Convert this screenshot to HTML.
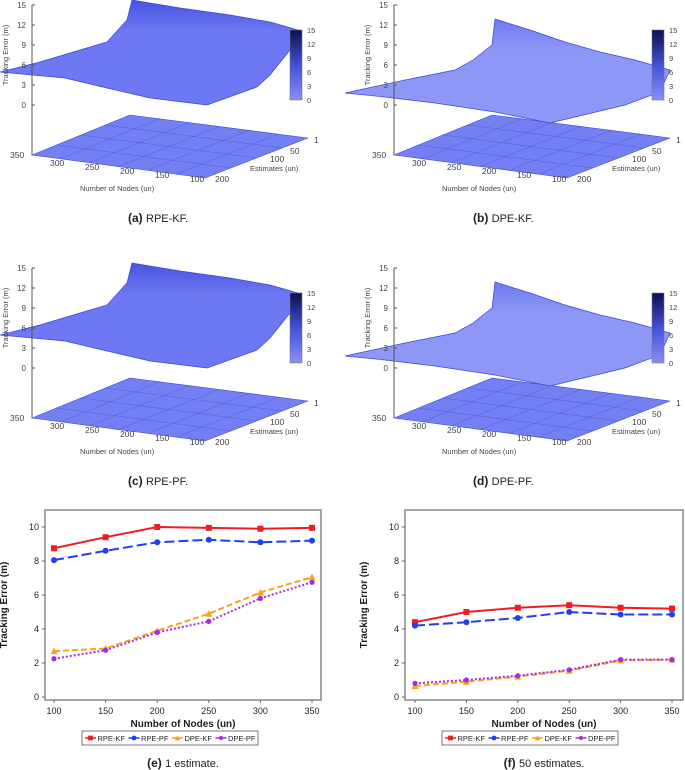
<!DOCTYPE html>
<html><head><meta charset="utf-8">
<style>
body{margin:0;background:#fff;font-family:"Liberation Sans",sans-serif;}
svg{display:block}
</style></head>
<body>
<svg id="fig" width="685" height="770" viewBox="0 0 685 770" xmlns="http://www.w3.org/2000/svg" font-family="Liberation Sans, sans-serif"></svg>
<script>
const nodes=[100,150,200,250,300,350];
const yTicks=[0,2,4,6,8,10];
const seriesNames=['RPE-KF','RPE-PF','DPE-KF','DPE-PF'];
const e_rpekf=[8.75,9.4,10.0,9.95,9.9,9.95];
const e_rpepf=[8.05,8.6,9.1,9.25,9.1,9.2];
const e_dpekf=[2.7,2.85,3.9,4.9,6.15,7.05];
const e_dpepf=[2.25,2.75,3.8,4.45,5.8,6.75];
const f_rpekf=[4.4,5.0,5.25,5.4,5.25,5.2];
const f_rpepf=[4.2,4.4,4.65,5.0,4.85,4.85];
const f_dpekf=[0.65,0.9,1.2,1.55,2.15,2.2];
const f_dpepf=[0.8,1.0,1.25,1.6,2.2,2.2];
const zTicks=[0,3,6,9,12,15];
const cbTicks=[0,3,6,9,12,15];
const nodeTicks3d=[350,300,250,200,150,100];
const estTicks=[1,50,100,200];

const NS='http://www.w3.org/2000/svg';
const svg=document.getElementById('fig');
function el(tag,attrs,parent,text){
  const e=document.createElementNS(NS,tag);
  for(const k in attrs)e.setAttribute(k,attrs[k]);
  if(text!==undefined)e.textContent=text;
  (parent||svg).appendChild(e);return e;
}

/* ---------- 3D panels ---------- */
function panel3d(ox,oy,name,surf,col,dark,letter,title,capX){
  const g=el('g',{transform:`translate(${ox},${oy})`});
  
  
  const defs=el('defs',{},g);
  const gr=el('linearGradient',{id:name+'-g',x1:0,y1:0,x2:0,y2:1},defs);
  el('stop',{offset:0,'stop-color':dark},gr);el('stop',{offset:0.3,'stop-color':col},gr);el('stop',{offset:1,'stop-color':col},gr);
  const floor=el('polygon',{points:'32,155 130,115 308,138 205,178',fill:'#7480f2',stroke:'#3a45e0','stroke-width':0.6},g);
  
  for(let i=1;i<6;i++){const t=i/6;
    el('line',{x1:32+(205-32)*t,y1:155+(178-155)*t,x2:130+(308-130)*t,y2:115+(138-115)*t,stroke:'#3a45e0','stroke-width':0.5,opacity:0.6},g);}
  for(let i=1;i<4;i++){const t=i/4;
    el('line',{x1:32+(130-32)*t,y1:155+(115-155)*t,x2:205+(308-205)*t,y2:178+(138-178)*t,stroke:'#3a45e0','stroke-width':0.5,opacity:0.6},g);}
  const s=el('polygon',{points:surf,fill:`url(#${name}-g)`,stroke:'#3a45e0','stroke-width':0.7},g);
  
  el('line',{x1:32,y1:5,x2:32,y2:155,stroke:'#555','stroke-width':1},g);
  const za=el('g',{},g);
  zTicks.forEach((v,i)=>{const y=105-i*20;
    el('line',{x1:32,y1:y,x2:35,y2:y,stroke:'#555'},za);
    el('text',{x:26,y:y+3,'font-size':8,'text-anchor':'end',fill:'#444'},za,v);});
  const zt=el('text',{x:8,y:55,'font-size':7.5,fill:'#444','text-anchor':'middle',transform:'rotate(-90 8 55)'},g,'Tracking Error (m)');
  
  nodeTicks3d.forEach((v,i)=>{const x=i==0?10:15+i*35,y=i==0?158:162+i*4;
    el('text',{x:x,y:y,'font-size':8.5,fill:'#444'},g,v);});
  const nt=el('text',{x:80,y:191,'font-size':7.5,fill:'#444'},g,'Number of Nodes (un)');
  
  el('text',{x:314,y:143,'font-size':8.5,fill:'#444'},g,estTicks[0]);
  el('text',{x:290,y:154,'font-size':8.5,fill:'#444'},g,estTicks[1]);
  el('text',{x:270,y:162,'font-size':8.5,fill:'#444'},g,estTicks[2]);
  el('text',{x:215,y:182,'font-size':8.5,fill:'#444'},g,estTicks[3]);
  const et=el('text',{x:250,y:171,'font-size':7.5,fill:'#444'},g,'Estimates (un)');
  
  const cg=el('linearGradient',{id:name+'-cb',x1:0,y1:0,x2:0,y2:1},defs);
  el('stop',{offset:0,'stop-color':'#0a0f50'},cg);el('stop',{offset:0.5,'stop-color':'#4550d8'},cg);el('stop',{offset:1,'stop-color':'#8890f5'},cg);
  const cb=el('rect',{x:290,y:30,width:12,height:70,fill:`url(#${name}-cb)`,stroke:'#777','stroke-width':0.6},g);
  
  cbTicks.forEach((v,i)=>{const y=100-i*14;el('text',{x:307,y:y+3,'font-size':7.5,fill:'#444'},g,v);});
  const cap=el('text',{x:capX,y:222,'font-size':11,fill:'#222'},g);
  
  el('tspan',{'font-weight':'bold','font-size':12},cap,`(${letter}) `);el('tspan',{},cap,title);
}
const surfA='0,72 40,62 80,50 107,42 127,20 132,0 180,8 230,15 270,22 298,30 290,50 286,55 270,75 257,87 207,105 150,98 107,88 65,78';
const surfB='-17,93 43,80 93,70 111,60 130,45 133,19 168,30 203,42 238,52 273,60 308,70 298,92 263,105 213,117 188,123 133,112 73,103 23,97';
panel3d(0,0,'panel-a',surfA,'#6d78f2','#4853e2','a','RPE-KF.',128);
panel3d(362,0,'panel-b',surfB,'#8d97f5','#6f7af0','b','DPE-KF.',111);
panel3d(0,263,'panel-c',surfA,'#6d78f2','#4853e2','c','RPE-PF.',128);
panel3d(362,263,'panel-d',surfB,'#8d97f5','#6f7af0','d','DPE-PF.',111);

/* ---------- line charts ---------- */
const colors=['#ee1c25','#1f3ff0','#f7a21b','#a52be8'];
const dashes=['','10,4','6,3','2,2'];
function marker(g,si,cx,cy,s){
  if(si==0)el('rect',{x:cx-3*s,y:cy-3*s,width:6*s,height:6*s,fill:colors[0]},g);
  else if(si==1)el('circle',{cx:cx,cy:cy,r:3*s,fill:colors[1]},g);
  else if(si==2)el('polygon',{points:`${cx},${cy-3.5*s} ${cx+3.5*s},${cy+3*s} ${cx-3.5*s},${cy+3*s}`,fill:colors[2]},g);
  else el('circle',{cx:cx,cy:cy,r:2.6*s,fill:colors[3]},g);
}
function lineChart(name,box,x0,x1,data,letter,title,legX){
  const g=el('g',{});
  const xs=v=>x0+(v-100)/(250)*(x1-x0);
  const ys=v=>697-v*17;
  el('rect',{x:box[0],y:510,width:box[1]-box[0],height:190,fill:'none',stroke:'#888','stroke-width':1.5},g);
  yTicks.forEach(v=>{el('line',{x1:box[0]-3,y1:ys(v),x2:box[0],y2:ys(v),stroke:'#666'},g);
    el('text',{x:box[0]-6,y:ys(v)+3,'font-size':9,'text-anchor':'end',fill:'#222'},g,v);});
  nodes.forEach(v=>{el('line',{x1:xs(v),y1:700,x2:xs(v),y2:703,stroke:'#666'},g);
    el('text',{x:xs(v),y:714,'font-size':9,'text-anchor':'middle',fill:'#222'},g,v);});
  const xt=el('text',{x:(box[0]+box[1])/2,y:727,'font-size':10,'font-weight':'bold','text-anchor':'middle',fill:'#222'},g,'Number of Nodes (un)');
  
  const yx=box[0]-38;
  const yt=el('text',{x:yx,y:605,'font-size':10,'font-weight':'bold','text-anchor':'middle',fill:'#222',transform:`rotate(-90 ${yx} 605)`},g,'Tracking Error (m)');
  
  data.forEach((arr,si)=>{
    const pts=arr.map((v,i)=>xs(nodes[i])+','+ys(v)).join(' ');
    const pl=el('polyline',{points:pts,fill:'none',stroke:colors[si],'stroke-width':2,'stroke-dasharray':dashes[si]},g);
    
    arr.forEach((v,i)=>marker(g,si,xs(nodes[i]),ys(v),1));
  });
  const lg=el('g',{},g);
  el('rect',{x:legX,y:731,width:176,height:14,fill:'#fff',stroke:'#555','stroke-width':0.8},lg);
  seriesNames.forEach((n,i)=>{const lx=legX+3+i*43.5;
    const le=el('g',{},lg);
    el('line',{x1:lx,y1:738,x2:lx+11,y2:738,stroke:colors[i],'stroke-width':1.5},le);
    marker(le,i,lx+5.5,738,0.8);
    el('text',{x:lx+12.5,y:741,'font-size':7.5,fill:'#222'},le,n);});
  const cap=el('text',{x:(box[0]+box[1])/2,y:767,'font-size':11,'text-anchor':'middle',fill:'#222'},g);
  
  el('tspan',{'font-weight':'bold','font-size':12},cap,`(${letter}) `);el('tspan',{},cap,title);
}
lineChart('chart-1-estimate',[45,321],54,312,[e_rpekf,e_rpepf,e_dpekf,e_dpepf],'e','1 estimate.',82);
lineChart('chart-50-estimates',[405,683],415,672,[f_rpekf,f_rpepf,f_dpekf,f_dpepf],'f','50 estimates.',442);
</script>
</body></html>
